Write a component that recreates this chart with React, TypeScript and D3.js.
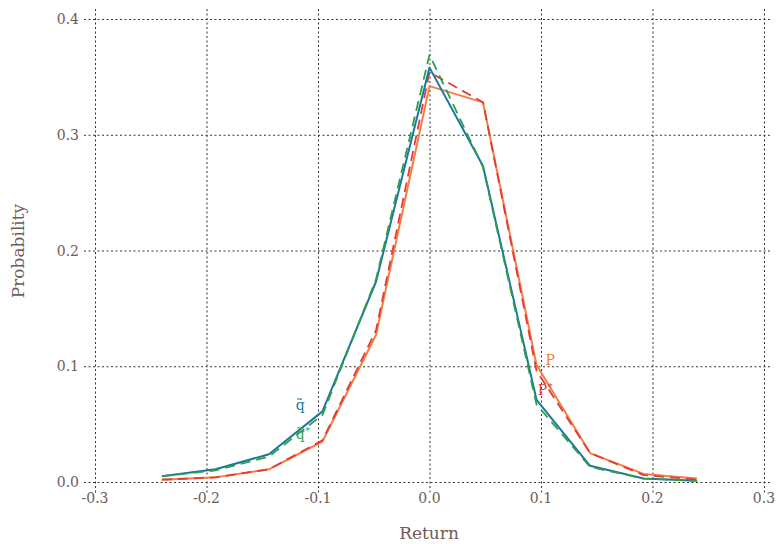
import * as d3 from "d3";
import React, { useEffect, useRef } from "react";

// bin centres (returns)
const bins = [-0.24, -0.192, -0.144, -0.096, -0.048, 0, 0.048, 0.096, 0.144, 0.192, 0.24];

// series
const qTilde = [0.005, 0.011, 0.024, 0.061, 0.173, 0.358, 0.273, 0.071, 0.014, 0.003, 0.001];
const qTildeStar = [0.005, 0.010, 0.022, 0.058, 0.175, 0.369, 0.272, 0.067, 0.013, 0.003, 0.001];
const pSeries = [0.002, 0.004, 0.011, 0.035, 0.127, 0.342, 0.328, 0.101, 0.025, 0.007, 0.003];
const pStar = [0.002, 0.004, 0.011, 0.036, 0.131, 0.354, 0.328, 0.096, 0.025, 0.006, 0.002];

const xTicks = [-0.3, -0.2, -0.1, 0, 0.1, 0.2, 0.3];
const yTicks = [0, 0.1, 0.2, 0.3, 0.4];

const textColor = "#6e5c5a";
const font = "'DejaVu Serif', serif";

export default function App() {
  const svgRef = useRef<SVGSVGElement>(null);

  useEffect(() => {
    const width = 776;
    const height = 544;
    const svg = d3.select(svgRef.current).attr("width", width).attr("height", height);
    svg.selectAll("*").remove();

    const x = d3.scaleLinear().domain([-0.3, 0.3]).range([95, 764]);
    const y = d3.scaleLinear().domain([0, 0.4]).range([482, 19]);

    const left = 91, right = 770, top = 9, bottom = 486, tick = 7;

    // grid + ticks, all dotted
    const grid = svg.append("g").attr("stroke", "#333").attr("stroke-width", 1).attr("stroke-dasharray", "2,2.5");
    grid.selectAll(".vx")
      .data(xTicks)
      .enter()
      .append("line")
      .attr("x1", (d) => x(d) + 0.5)
      .attr("x2", (d) => x(d) + 0.5)
      .attr("y1", top)
      .attr("y2", bottom + tick);
    grid.selectAll(".hy")
      .data(yTicks)
      .enter()
      .append("line")
      .attr("x1", left - tick)
      .attr("x2", right)
      .attr("y1", (d) => y(d) + 0.5)
      .attr("y2", (d) => y(d) + 0.5);

    // tick labels
    svg.append("g").selectAll("text")
      .data(xTicks)
      .enter()
      .append("text")
      .attr("x", (d) => x(d))
      .attr("y", bottom + 17)
      .attr("text-anchor", "middle")
      .attr("font-family", font)
      .attr("font-size", "14px")
      .attr("fill", textColor)
      .text((d) => (d < 0 ? "-" : "") + Math.abs(d).toFixed(1));

    svg.append("g").selectAll("text")
      .data(yTicks)
      .enter()
      .append("text")
      .attr("x", 79)
      .attr("y", (d) => y(d) + 5)
      .attr("text-anchor", "end")
      .attr("font-family", font)
      .attr("font-size", "14px")
      .attr("fill", textColor)
      .text((d) => d.toFixed(1));

    // axis titles
    svg.append("text")
      .attr("x", 429)
      .attr("y", 539)
      .attr("text-anchor", "middle")
      .attr("font-family", font)
      .attr("font-size", "17px")
      .attr("fill", textColor)
      .text("Return");
    svg.append("text")
      .attr("transform", "translate(24,251) rotate(-90)")
      .attr("text-anchor", "middle")
      .attr("font-family", font)
      .attr("font-size", "17px")
      .attr("fill", textColor)
      .text("Probability");

    const line = d3.line<number>()
      .x((_, i) => x(bins[i]))
      .y((d) => y(d));

    const series = [
      { values: pSeries, color: "#f57d40", dash: null, w: 2 },
      { values: pStar, color: "#e6393a", dash: "10,6", w: 1.8 },
      { values: qTilde, color: "#1a78a0", dash: null, w: 2 },
      { values: qTildeStar, color: "#2e9e48", dash: "10,6", w: 1.8 },
    ];
    svg.append("g").selectAll("path")
      .data(series)
      .enter()
      .append("path")
      .attr("fill", "none")
      .attr("stroke", (d) => d.color)
      .attr("stroke-width", (d) => d.w)
      .attr("stroke-dasharray", (d) => d.dash)
      .attr("stroke-linejoin", "round")
      .attr("d", (d) => line(d.values));

    // inline labels
    const labels = [
      { text: "q\u0303", star: false, color: "#1a78a0", bx: -0.12, by: 0.062 },
      { text: "q\u0303", star: true, color: "#2e9e48", bx: -0.12, by: 0.037 },
      { text: "P", star: false, color: "#f57d40", bx: 0.104, by: 0.101 },
      { text: "P", star: true, color: "#e6393a", bx: 0.097, by: 0.075 },
    ];
    labels.forEach((l) => {
      const t = svg.append("text")
        .attr("x", x(l.bx))
        .attr("y", y(l.by))
        .attr("font-family", font)
        .attr("font-size", "14px")
        .attr("fill", l.color)
        .text(l.text);
      if (l.star) {
        const w = (t.node() as SVGTextElement).getComputedTextLength();
        svg.append("text")
          .attr("x", x(l.bx) + w + 0.5)
          .attr("y", y(l.by) - 5)
          .attr("font-family", font)
          .attr("font-size", "10px")
          .attr("fill", l.color)
          .text("*");
      }
    });
  }, []);

  return (
    <div style={{ position: "absolute", left: 0, top: 0, background: "#fff" }}>
      <svg ref={svgRef} style={{ display: "block" }}></svg>
    </div>
  );
}
